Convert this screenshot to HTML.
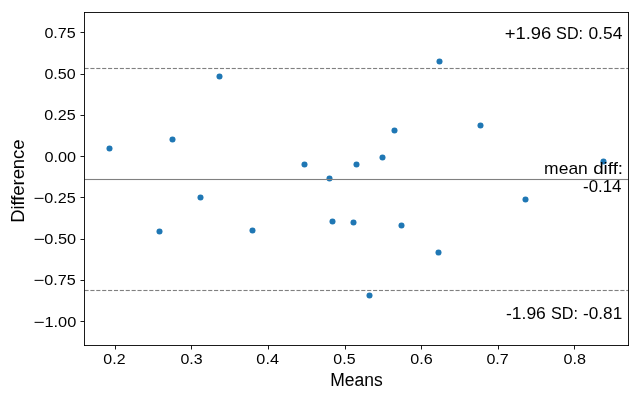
<!DOCTYPE html>
<html lang="en">
<head>
<meta charset="utf-8">
<title>Bland-Altman plot: Means vs Difference</title>
<style>
html,body{margin:0;padding:0;background:#fff;}
body{width:640px;height:400px;overflow:hidden;font-family:"Liberation Sans",sans-serif;}
svg{display:block;}
svg text{font-family:"Liberation Sans",sans-serif;fill:#000;stroke:#000;stroke-linejoin:round;}
</style>
</head>
<body>
<svg width="640" height="400" viewBox="0 0 640 400">
<rect x="0" y="0" width="640" height="400" fill="#ffffff"/>
<!-- scatter points -->
<g fill="#1f77b4">
<circle cx="109.5" cy="148.5" r="3.03"/>
<circle cx="172.5" cy="139.5" r="3.03"/>
<circle cx="219.5" cy="76.5" r="3.03"/>
<circle cx="200.5" cy="197.5" r="3.03"/>
<circle cx="159.5" cy="231.5" r="3.03"/>
<circle cx="252.5" cy="230.5" r="3.03"/>
<circle cx="304.5" cy="164.5" r="3.03"/>
<circle cx="329.5" cy="178.5" r="3.03"/>
<circle cx="332.5" cy="221.5" r="3.03"/>
<circle cx="353.5" cy="222.5" r="3.03"/>
<circle cx="356.5" cy="164.5" r="3.03"/>
<circle cx="382.5" cy="157.5" r="3.03"/>
<circle cx="394.5" cy="130.5" r="3.03"/>
<circle cx="439.5" cy="61.5" r="3.03"/>
<circle cx="369.5" cy="295.5" r="3.03"/>
<circle cx="401.5" cy="225.5" r="3.03"/>
<circle cx="438.5" cy="252.5" r="3.03"/>
<circle cx="480.5" cy="125.5" r="3.03"/>
<circle cx="525.5" cy="199.5" r="3.03"/>
<circle cx="603.5" cy="161.5" r="3.03"/>
</g>
<!-- mean line and limits of agreement -->
<g stroke="#808080" stroke-width="3" stroke-opacity="0.055" fill="none">
<line x1="84.5" y1="179.5" x2="628.5" y2="179.5"/>
<line x1="84.5" y1="68.5" x2="628.5" y2="68.5" stroke-dasharray="4.1111 1.7778"/>
<line x1="84.5" y1="290.5" x2="628.5" y2="290.5" stroke-dasharray="4.1111 1.7778"/>
</g>
<g stroke="#808080" stroke-width="1.0" stroke-opacity="1" fill="none">
<line x1="84.5" y1="179.5" x2="628.5" y2="179.5"/>
<line x1="84.5" y1="68.5" x2="628.5" y2="68.5" stroke-dasharray="4.1111 1.7778"/>
<line x1="84.5" y1="290.5" x2="628.5" y2="290.5" stroke-dasharray="4.1111 1.7778"/>
</g>
<!-- ticks -->
<g stroke="#000000" stroke-opacity="0.894" stroke-width="1.0">
<line x1="115.5" y1="345.5" x2="115.5" y2="349.5"/>
<line x1="191.5" y1="345.5" x2="191.5" y2="349.5"/>
<line x1="268.5" y1="345.5" x2="268.5" y2="349.5"/>
<line x1="345.5" y1="345.5" x2="345.5" y2="349.5"/>
<line x1="421.5" y1="345.5" x2="421.5" y2="349.5"/>
<line x1="498.5" y1="345.5" x2="498.5" y2="349.5"/>
<line x1="574.5" y1="345.5" x2="574.5" y2="349.5"/>
<line x1="80.5" y1="32.5" x2="84.5" y2="32.5"/>
<line x1="80.5" y1="74.5" x2="84.5" y2="74.5"/>
<line x1="80.5" y1="115.5" x2="84.5" y2="115.5"/>
<line x1="80.5" y1="156.5" x2="84.5" y2="156.5"/>
<line x1="80.5" y1="197.5" x2="84.5" y2="197.5"/>
<line x1="80.5" y1="239.5" x2="84.5" y2="239.5"/>
<line x1="80.5" y1="280.5" x2="84.5" y2="280.5"/>
<line x1="80.5" y1="321.5" x2="84.5" y2="321.5"/>
</g>
<!-- axes frame -->
<g stroke="#000000" stroke-opacity="0.894" stroke-width="1.0" stroke-linecap="square">
<line x1="84.5" y1="12.5" x2="84.5" y2="345.5"/>
<line x1="628.5" y1="12.5" x2="628.5" y2="345.5"/>
<line x1="84.5" y1="345.5" x2="628.5" y2="345.5"/>
<line x1="84.5" y1="12.5" x2="628.5" y2="12.5"/>
</g>
<!-- labels (group opacity forces grayscale antialiasing like the original raster) -->
<g opacity="0.999">
<text transform="translate(75.73 38.15) scale(1.1030 1)" text-anchor="end" font-size="14.60" stroke-width="0.00">0.75</text>
<text transform="translate(75.62 79.08) scale(1.1000 1)" text-anchor="end" font-size="14.60" stroke-width="0.00">0.50</text>
<text transform="translate(75.74 120.02) scale(1.1050 1)" text-anchor="end" font-size="14.60" stroke-width="0.00">0.25</text>
<text transform="translate(76.09 161.94) scale(1.1160 1)" text-anchor="end" font-size="14.60" stroke-width="0.00">0.00</text>
<text y="202.99" font-size="14.60" stroke-width="0.00"><tspan x="33.46" textLength="10.81" lengthAdjust="spacingAndGlyphs">−</tspan><tspan x="44.39" textLength="31.47" lengthAdjust="spacingAndGlyphs">0.25</tspan></text>
<text y="244.04" font-size="14.60" stroke-width="0.00"><tspan x="33.50" textLength="11.34" lengthAdjust="spacingAndGlyphs">−</tspan><tspan x="44.33" textLength="31.76" lengthAdjust="spacingAndGlyphs">0.50</tspan></text>
<text y="285.12" font-size="14.60" stroke-width="0.00"><tspan x="33.51" textLength="10.81" lengthAdjust="spacingAndGlyphs">−</tspan><tspan x="44.37" textLength="31.49" lengthAdjust="spacingAndGlyphs">0.75</tspan></text>
<text y="326.86" font-size="14.60" stroke-width="0.00"><tspan x="33.47" textLength="11.09" lengthAdjust="spacingAndGlyphs">−</tspan><tspan x="44.40" textLength="31.86" lengthAdjust="spacingAndGlyphs">1.00</tspan></text>
<text transform="translate(114.47 363.93) scale(1.0950 1)" text-anchor="middle" font-size="14.60" stroke-width="0.00">0.2</text>
<text transform="translate(191.49 364.18) scale(1.0960 1)" text-anchor="middle" font-size="14.60" stroke-width="0.00">0.3</text>
<text transform="translate(267.64 363.98) scale(1.1130 1)" text-anchor="middle" font-size="14.60" stroke-width="0.00">0.4</text>
<text transform="translate(344.42 364.22) scale(1.0930 1)" text-anchor="middle" font-size="14.60" stroke-width="0.00">0.5</text>
<text transform="translate(421.61 363.99) scale(1.1080 1)" text-anchor="middle" font-size="14.60" stroke-width="0.00">0.6</text>
<text transform="translate(497.58 363.98) scale(1.1040 1)" text-anchor="middle" font-size="14.60" stroke-width="0.00">0.7</text>
<text transform="translate(574.63 364.00) scale(1.1100 1)" text-anchor="middle" font-size="14.60" stroke-width="0.00">0.8</text>
<text transform="translate(356.38 386.25) scale(0.9720 1)" text-anchor="middle" font-size="18.00" stroke-width="0.05">Means</text>
<text transform="translate(24.00 181.20) rotate(-90) scale(1.0080 1)" text-anchor="middle" font-size="18.20" stroke-width="0.03">Difference</text>
<text y="38.60" font-size="15.90" stroke-width="0.00"><tspan x="504.69" textLength="46.70" lengthAdjust="spacingAndGlyphs">+1.96</tspan> <tspan x="556.14" textLength="27.00" lengthAdjust="spacingAndGlyphs">SD:</tspan> <tspan x="588.44" textLength="33.88" lengthAdjust="spacingAndGlyphs">0.54</tspan></text>
<text y="173.98" font-size="15.90" stroke-width="0.00"><tspan x="544.13" textLength="43.72" lengthAdjust="spacingAndGlyphs">mean</tspan> <tspan x="593.22" textLength="29.82" lengthAdjust="spacingAndGlyphs">diff:</tspan></text>
<text transform="translate(621.50 191.61) scale(1.0630 1)" text-anchor="end" font-size="15.90" stroke-width="0.00">-0.14</text>
<text y="318.58" font-size="15.90" stroke-width="0.00"><tspan x="505.98" textLength="39.90" lengthAdjust="spacingAndGlyphs">-1.96</tspan> <tspan x="550.91" textLength="26.98" lengthAdjust="spacingAndGlyphs">SD:</tspan> <tspan x="583.04" textLength="39.18" lengthAdjust="spacingAndGlyphs">-0.81</tspan></text>
</g>
</svg>
</body>
</html>
